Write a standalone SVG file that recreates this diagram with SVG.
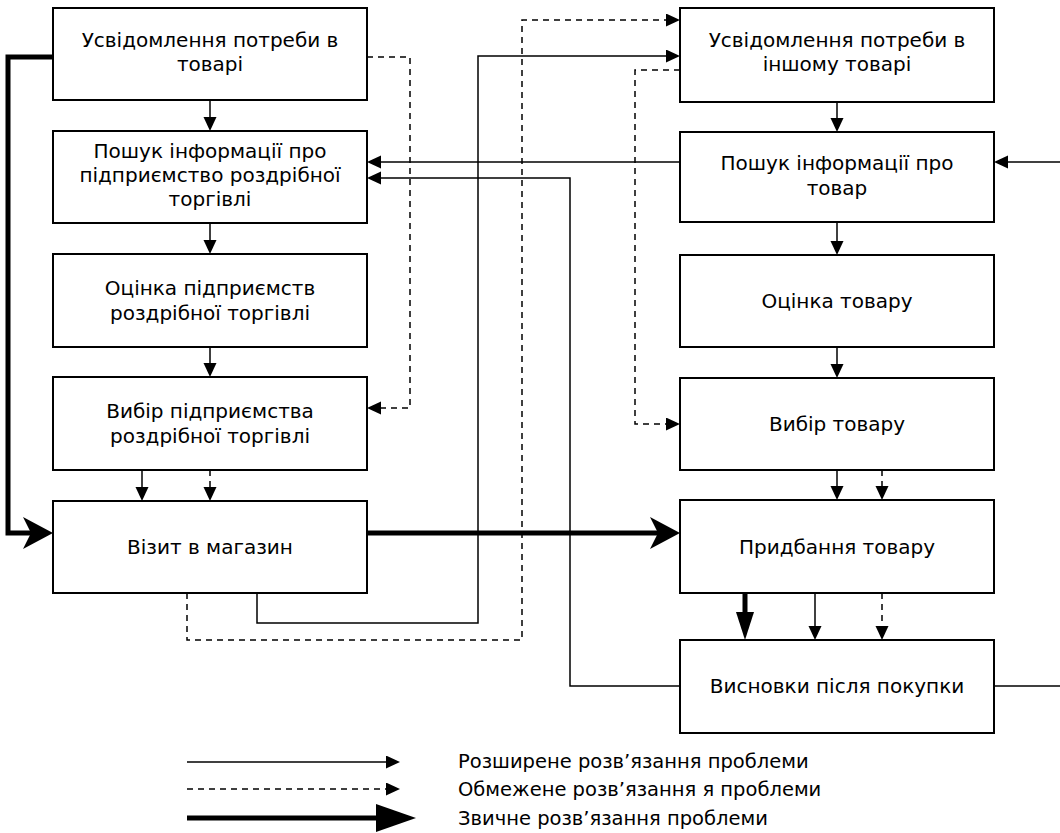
<svg xmlns="http://www.w3.org/2000/svg" width="1060" height="833" viewBox="0 0 1060 833">
<style>
.box{fill:#fff;stroke:#000;stroke-width:2}
.t{font-family:"DejaVu Sans",Verdana,sans-serif;font-size:20px;text-anchor:middle;fill:#000}
.l{font-family:"DejaVu Sans",Verdana,sans-serif;font-size:19.5px;fill:#000}
.c{fill:none;stroke:#000;stroke-width:1.5}
.d{fill:none;stroke:#000;stroke-width:1.5;stroke-dasharray:6,5}
.k{fill:none;stroke:#000;stroke-width:5;stroke-linejoin:miter}
</style>
<defs>
<marker id="a" markerUnits="userSpaceOnUse" markerWidth="14" markerHeight="14" refX="10" refY="6.5" orient="auto"><path d="M0,0 L14,6.5 L0,13 z" fill="#000"/></marker>
<marker id="ak" markerUnits="userSpaceOnUse" markerWidth="30" markerHeight="32" refX="10" refY="16" orient="auto"><path d="M0,0 L30,16 L0,32 L8,16 z" fill="#000"/></marker>
<marker id="at" markerUnits="userSpaceOnUse" markerWidth="28" markerHeight="18" refX="8" refY="9" orient="auto"><path d="M0,0 L28,9 L0,18 z" fill="#000"/></marker>
<marker id="ab" markerUnits="userSpaceOnUse" markerWidth="40" markerHeight="28" refX="10" refY="14" orient="auto"><path d="M0,0 L40,14 L0,28 z" fill="#000"/></marker>
</defs>
<g id="connectors">
<path class="c" d="M210,100 V127" marker-end="url(#a)"/>
<path class="c" d="M210,223 V250" marker-end="url(#a)"/>
<path class="c" d="M210,347 V373" marker-end="url(#a)"/>
<path class="c" d="M142,470 V497" marker-end="url(#a)"/>
<path class="d" d="M210,470 V497" marker-end="url(#a)"/>
<path class="k" d="M53,57 H8 V533 H33" marker-end="url(#ak)"/>
<path class="d" d="M367,57 H410 V408 H371" marker-end="url(#a)"/>
<path class="k" d="M367,533 H660" marker-end="url(#ak)"/>
<path class="c" d="M837,102 V128" marker-end="url(#a)"/>
<path class="c" d="M837,222 V251" marker-end="url(#a)"/>
<path class="c" d="M837,347 V374" marker-end="url(#a)"/>
<path class="c" d="M837,470 V496" marker-end="url(#a)"/>
<path class="d" d="M882,470 V496" marker-end="url(#a)"/>
<path class="k" d="M745,593 V620" marker-end="url(#at)"/>
<path class="c" d="M815,593 V636" marker-end="url(#a)"/>
<path class="d" d="M882,593 V636" marker-end="url(#a)"/>
<path class="c" d="M680,162 H371" marker-end="url(#a)"/>
<path class="c" d="M680,686 H570 V178 H371" marker-end="url(#a)"/>
<path class="c" d="M257,593 V623 H478 V56 H676" marker-end="url(#a)"/>
<path class="d" d="M187,593 V640 H522 V20 H676" marker-end="url(#a)"/>
<path class="d" d="M680,70 H635 V424 H676" marker-end="url(#a)"/>
<path class="c" d="M1060,162 H998" marker-end="url(#a)"/>
<path class="c" d="M994,686 H1060"/>
</g>
<g id="n1"><rect class="box" x="53" y="8" width="314" height="92"/><text class="t" x="210" y="47">Усвідомлення потреби в</text><text class="t" x="210" y="71">товарі</text></g>
<g id="n2"><rect class="box" x="53" y="131" width="314" height="92"/><text class="t" x="210" y="158">Пошук інформації про</text><text class="t" x="210" y="182">підприємство роздрібної</text><text class="t" x="210" y="206">торгівлі</text></g>
<g id="n3"><rect class="box" x="53" y="254" width="314" height="93"/><text class="t" x="210" y="295">Оцінка підприємств</text><text class="t" x="210" y="320">роздрібної торгівлі</text></g>
<g id="n4"><rect class="box" x="53" y="377" width="314" height="93"/><text class="t" x="210" y="418">Вибір підприємства</text><text class="t" x="210" y="443">роздрібної торгівлі</text></g>
<g id="n5"><rect class="box" x="53" y="501" width="314" height="92"/><text class="t" x="210" y="554">Візит в магазин</text></g>
<g id="n6"><rect class="box" x="680" y="8" width="314" height="94"/><text class="t" x="837" y="47">Усвідомлення потреби в</text><text class="t" x="837" y="71">іншому товарі</text></g>
<g id="n7"><rect class="box" x="680" y="132" width="314" height="90"/><text class="t" x="837" y="170">Пошук інформації про</text><text class="t" x="837" y="195">товар</text></g>
<g id="n8"><rect class="box" x="680" y="255" width="314" height="92"/><text class="t" x="837" y="308">Оцінка товару</text></g>
<g id="n9"><rect class="box" x="680" y="378" width="314" height="92"/><text class="t" x="837" y="431">Вибір товару</text></g>
<g id="n10"><rect class="box" x="680" y="500" width="314" height="93"/><text class="t" x="837" y="554">Придбання товару</text></g>
<g id="n11"><rect class="box" x="680" y="640" width="314" height="93"/><text class="t" x="837" y="693">Висновки після покупки</text></g>
<g id="legend">
<path class="c" d="M187,762 H396" marker-end="url(#a)"/>
<path class="d" d="M187,789 H396" marker-end="url(#a)"/>
<path class="k" d="M187,818 H386" stroke-width="6" marker-end="url(#ab)"/>
<text class="l" x="458" y="768">Розширене розв’язання проблеми</text>
<text class="l" x="458" y="796">Обмежене розв’язання я проблеми</text>
<text class="l" x="458" y="825">Звичне розв’язання проблеми</text>
</g>
</svg>
